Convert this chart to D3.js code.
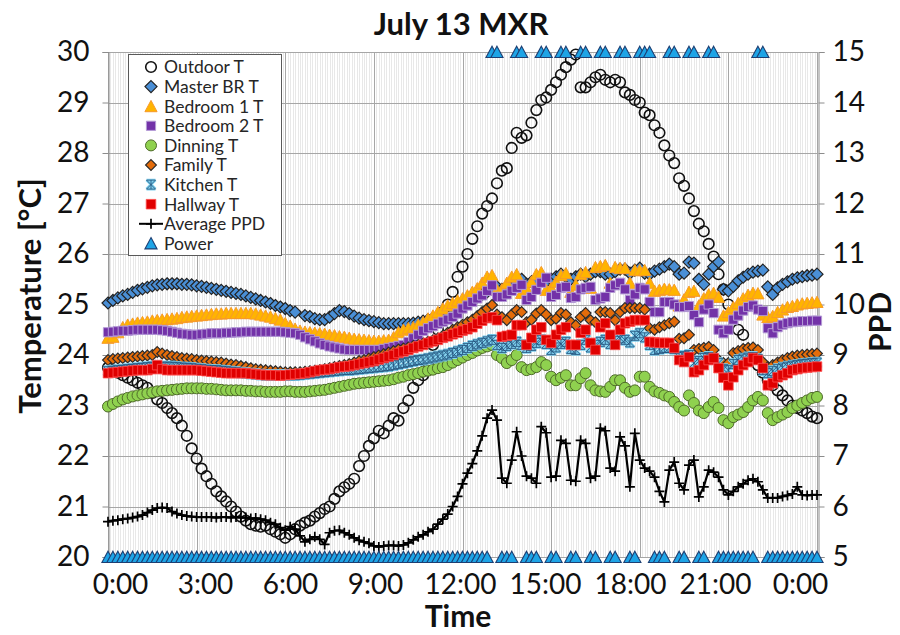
<!DOCTYPE html>
<html><head><meta charset="utf-8">
<script src="https://cdn.jsdelivr.net/npm/d3@7"></script>
<style>
body{margin:0;background:#fff;}
svg{display:block;font-family:Lato,"Open Sans",sans-serif;}
</style>
</head><body>
<svg id="chart" width="900" height="635"></svg>
<script>
// ---------- DATA ----------
const title = "July 13 MXR";
const xTickHours = [0,3,6,9,12,15,18,21,24];
const xTickLabels = ["0:00","3:00","6:00","9:00","12:00","15:00","18:00","21:00","0:00"];
const tempTicks = [20,21,22,23,24,25,26,27,28,29,30];
const ppdTicks = [5,6,7,8,9,10,11,12,13,14,15];
const stepMinutes = 10; // samples every 10 minutes, 0:00 .. 24:00

const outdoorT = [
23.75,23.7,23.65,23.6,23.55,23.5, 23.45,23.4,23.35,23.25,23.12,23.05,
22.95,22.85,22.75,22.6,22.4,22.15, 21.95,21.75,21.6,21.45,21.3,21.2,
21.1,21.0,20.9,20.8,20.72,20.65, 20.62,20.6,20.62,20.55,20.5,20.45,
20.38,20.45,20.55,20.62,20.68,20.72, 20.8,20.87,20.95,21.0,21.15,21.3,
21.38,21.45,21.55,21.8,22.0,22.2, 22.35,22.5,22.45,22.6,22.75,22.7,
22.95,23.1,23.35,23.5,23.6,23.85, 24.2,24.5,24.85,25.0,25.25,25.55,
25.75,26.0,26.3,26.55,26.8,26.95, 27.1,27.4,27.65,27.7,28.1,28.4,
28.3,28.35,28.6,28.85,29.05,29.1, 29.25,29.4,29.55,29.7,29.85,29.95,
29.3,29.3,29.4,29.5,29.55,29.45, 29.4,29.45,29.4,29.2,29.15,29.05,
29.0,28.8,28.75,28.55,28.4,28.15, 27.95,27.8,27.5,27.35,27.1,26.85,
26.6,26.45,26.2,25.95,25.6,25.3, 25.0,24.8,24.5,24.4,24.1,23.95,
23.8,23.65,23.5,23.4,23.3,23.2, 23.1,23.0,22.95,22.9,22.85,22.78,
22.75];

const masterBRT = [
25.03,25.08,25.13,25.17,25.2,25.24, 25.28,25.31,25.34,25.37,25.39,25.4,
25.41,25.41,25.41,25.4,25.4,25.39, 25.37,25.36,25.34,25.32,25.3,25.28,
25.26,25.24,25.22,25.2,25.17,25.14, 25.11,25.08,25.05,25.02,24.98,24.95,
24.92,24.88,24.85,null,24.78,24.76, 24.72,24.7,24.7,24.75,24.82,24.88,
24.86,24.82,24.77,24.73,24.7,24.68, 24.66,24.64,24.62,24.62,24.62,24.62,
24.62,24.62,24.63,24.65,24.67,24.7, 24.73,24.76,24.8,24.84,24.9,24.95,
25.0,25.05,25.1,25.15,25.2,25.25, 25.3,25.35,25.3,25.35,25.4,25.45,
25.5,25.4,25.45,25.5,25.55,25.45, 25.5,25.55,25.6,25.55,25.5,25.55,
25.6,25.55,25.6,25.65,25.65,25.6, 25.6,25.65,25.7,25.7,25.62,25.68,
25.72,25.62,25.6,25.66,25.7,25.75, 25.8,25.75,25.6,25.62,25.84,25.82,
25.5,25.4,25.6,25.75,25.84,25.3, 25.27,25.36,25.47,25.54,25.6,25.64,
25.66,25.68,25.35,25.2,25.33,25.4, 25.45,25.5,25.53,25.55,25.57,25.58,
25.6];

const bedroom1T = [
24.34,24.36,24.45,24.55,24.6,24.62, 24.64,24.65,24.66,24.68,24.69,24.7,
24.71,24.72,24.73,24.75,24.76,24.77, 24.78,24.79,24.8,24.81,24.82,24.82,
24.83,24.83,24.83,24.83,24.83,24.83, 24.82,24.8,24.78,24.76,24.73,24.7,
24.63,24.58,24.52,24.48,24.46,24.45, 24.44,24.43,24.42,24.4,24.39,24.37,
24.36,24.34,24.32,24.31,24.3,24.29, 24.28,24.28,24.29,24.3,24.35,24.45,
24.5,24.53,24.55,24.6,24.65,24.72, 24.78,24.85,24.92,24.98,25.03,25.08,
25.12,25.18,25.25,25.32,25.43,25.55, 25.58,25.29,25.3,25.43,25.55,25.6,
25.23,25.32,25.45,25.6,25.64,25.29, 25.33,25.45,25.58,25.62,25.25,25.39,
25.6,25.64,25.33,25.74,25.76,25.78, 25.43,25.74,25.72,25.72,25.43,25.68,
25.68,25.68,25.43,25.27,25.29,25.31, 25.3,25.29,24.98,25.1,25.25,25.27,
24.98,25.12,25.2,25.23,25.15,24.78, 24.85,24.95,25.03,25.12,25.19,25.23,
25.22,24.8,24.75,24.77,24.85,24.9, 24.95,24.97,25.0,25.02,25.03,25.04,
25.05];

const bedroom2T = [
24.45,24.46,24.47,24.48,24.48,24.49, 24.5,24.5,24.5,24.5,24.5,24.49,
24.48,24.46,24.44,24.42,24.41,24.4, 24.4,24.41,24.42,24.43,24.43,24.43,
24.44,24.44,24.45,24.45,24.46,24.46, 24.46,24.46,24.46,24.46,24.46,24.46,
24.45,24.44,24.43,24.4,24.35,24.31, 24.27,24.23,24.2,24.17,24.15,24.13,
24.11,24.1,24.1,24.1,24.1,24.1, 24.1,24.1,24.12,24.14,24.16,24.18,
24.2,24.26,24.33,24.4,24.48,24.53, 24.57,24.62,24.66,24.7,24.75,24.82,
24.92,24.98,25.05,25.12,25.18,25.27, 25.38,25.15,25.15,25.2,25.27,25.33,
25.39,25.09,25.15,25.29,25.43,25.53, 25.15,25.19,25.33,25.35,25.13,25.15,
25.3,25.33,25.35,25.09,25.12,25.15, 25.33,25.38,25.43,25.3,25.09,25.2,
25.33,25.3,25.05,24.85,24.85,25.05, 25.05,25.0,24.95,24.95,24.97,24.79,
24.65,24.9,25.0,24.83,24.5,24.43, 24.5,24.7,24.78,24.88,24.95,24.98,
24.9,24.87,24.53,24.43,24.55,24.6, 24.63,24.65,24.66,24.67,24.67,24.68,
24.68];

const dinningT = [
22.98,23.03,23.08,23.12,23.15,23.18, 23.2,23.22,23.24,23.26,23.28,23.29,
23.3,23.31,23.32,23.33,23.34,23.34, 23.34,23.34,23.33,23.33,23.32,23.31,
23.3,23.3,23.3,23.3,23.29,23.29, 23.28,23.28,23.27,23.27,23.27,23.27,
23.28,23.28,23.27,23.27,23.27,23.28, 23.29,23.3,23.31,23.33,23.35,23.37,
23.39,23.41,23.43,23.44,23.45,23.46, 23.47,23.48,23.49,23.5,23.52,23.55,
23.57,23.6,23.62,23.64,23.67,23.69, 23.71,23.74,23.76,23.8,23.85,23.9,
23.95,24.0,24.04,24.09,24.14,24.17, 24.2,24.0,23.94,23.84,23.9,24.0,
23.76,23.7,23.72,23.76,23.86,23.8, 23.57,23.5,23.55,23.6,23.4,23.4,
23.54,23.64,23.4,23.3,23.28,23.27, 23.37,23.5,23.5,23.35,23.27,23.3,
23.57,23.57,23.37,23.28,23.25,23.2, 23.17,23.07,22.97,22.9,23.2,23.05,
22.9,22.85,22.97,23.07,22.95,22.71, 22.65,22.77,22.82,22.87,22.97,23.1,
23.17,23.1,22.85,22.71,22.77,22.82, 22.87,22.95,23.0,23.05,23.1,23.15,
23.17];

const familyT = [
23.9,23.92,23.93,23.94,23.95,23.96, 23.97,23.98,23.99,24.0,24.06,24.03,
24.0,23.98,23.96,23.94,23.93,23.92, 23.9,23.89,23.88,23.87,23.86,23.85,
23.83,23.81,23.8,23.78,23.76,23.74, 23.72,23.71,23.7,23.69,23.68,23.67,
23.66,23.66,23.66,23.66,23.67,23.68, 23.69,23.7,23.72,23.74,23.76,23.78,
23.8,23.82,23.85,23.88,23.9,23.93, 23.96,23.99,24.02,24.05,24.08,24.11,
24.13,24.15,24.18,24.2,24.23,24.26, 24.29,24.33,24.38,24.44,24.5,24.55,
24.6,24.65,24.7,24.77,24.85,24.92, 24.99,24.8,24.75,24.69,24.8,24.89,
24.85,24.65,24.7,24.82,24.89,24.8, 24.69,24.72,24.83,24.8,24.65,24.59,
24.75,24.83,24.69,24.65,24.85,24.85, 24.83,24.69,24.85,24.93,24.93,24.93,
24.93,24.9,24.53,24.5,24.55,24.59, 24.63,24.66,24.32,24.33,24.4,24.1,
24.12,24.14,24.16,24.1,23.9,23.84, 23.84,24.04,24.08,24.12,24.14,24.15,
24.1,23.86,23.76,23.8,23.85,23.9, 23.94,23.97,23.99,24.0,24.01,24.02,
24.03];

const kitchenT = [
23.68,23.69,23.7,23.71,23.72,23.73, 23.74,23.75,23.76,23.77,23.77,23.77,
23.77,23.77,23.76,23.75,23.75,23.74, 23.73,23.72,23.71,23.7,23.7,23.69,
23.68,23.67,23.66,23.65,23.64,23.63, 23.62,23.61,23.6,23.6,23.6,23.6,
23.6,23.6,23.6,23.61,23.62,23.63, 23.64,23.65,23.66,23.67,23.68,23.69,
23.7,23.7,23.71,23.72,23.73,23.74, 23.75,23.76,23.77,23.78,23.8,23.82,
23.84,23.86,23.88,23.9,23.91,23.93, 23.95,23.97,23.99,24.01,24.04,24.07,
24.1,24.14,24.18,24.21,24.24,24.27, 24.3,24.2,24.14,24.18,24.22,24.26,
24.2,24.14,24.18,24.24,24.3,24.22, 24.1,24.15,24.22,24.26,24.12,24.1,
24.2,24.3,24.15,24.2,24.26,24.3, 24.22,24.28,24.33,24.3,24.25,24.38,
24.43,24.35,24.2,24.1,24.12,24.14, 24.14,24.12,23.96,23.98,24.0,23.84,
23.88,23.94,23.96,23.92,23.84,23.72, 23.7,23.82,23.9,23.93,23.95,23.96,
23.92,23.7,23.64,23.68,23.72,23.75, 23.77,23.79,23.8,23.82,23.83,23.84,
23.85];

const hallwayT = [
23.64,23.65,23.66,23.67,23.68,23.69, 23.7,23.7,23.7,23.72,23.8,23.72,
23.7,23.7,23.7,23.7,23.7,23.7, 23.7,23.69,23.68,23.67,23.66,23.65,
23.64,23.64,23.64,23.64,23.64,23.63, 23.62,23.61,23.6,23.6,23.6,23.59,
23.6,23.61,23.62,23.63,23.64,23.66, 23.68,23.7,23.71,23.72,23.74,23.76,
23.77,23.78,23.8,23.82,23.84,23.86, 23.88,23.91,23.94,23.97,24.0,24.04,
24.07,24.1,24.14,24.17,24.2,24.24, 24.27,24.3,24.34,24.37,24.41,24.44,
24.48,24.51,24.55,24.62,24.68,24.73, 24.75,24.69,24.36,24.38,24.4,24.59,
24.59,24.2,24.34,24.5,24.55,24.3, 24.24,24.4,24.5,24.55,24.2,24.2,
24.44,24.5,24.24,24.1,24.55,24.63, 24.4,24.2,24.5,24.63,24.66,24.69,
24.69,24.69,24.26,24.25,24.24,24.24, 24.24,24.14,23.9,23.86,23.96,23.66,
23.7,23.8,23.9,23.94,23.74,23.55, 23.4,23.56,23.7,23.8,23.86,23.94,
23.9,23.74,23.4,23.44,23.56,23.6, 23.64,23.7,23.72,23.74,23.75,23.76,
23.77];

const averagePPD = [
5.7,5.72,5.73,5.75,5.76,5.78, 5.8,5.83,5.88,5.93,5.97,5.98,
5.97,5.9,5.86,5.83,5.81,5.8, 5.79,5.79,5.79,5.79,5.78,5.79,
5.79,5.78,5.79,5.78,5.78,5.76, 5.77,5.75,5.73,5.68,5.65,5.58,
5.53,5.6,5.55,5.42,5.3,5.35, 5.4,5.35,5.25,5.48,5.52,5.53,
5.48,5.44,5.38,5.33,5.3,5.27, 5.22,5.2,5.22,5.23,5.23,5.22,
5.24,5.28,5.34,5.4,5.44,5.5, 5.55,5.65,5.75,5.85,6.0,6.2,
6.45,6.66,6.85,7.1,7.4,7.75, 7.91,7.71,6.56,6.46,6.92,7.48,
7.0,6.6,6.56,6.46,7.58,7.46, 6.58,6.6,7.31,7.25,6.52,6.5,
7.31,7.25,6.56,6.6,7.55,7.5, 6.76,6.7,7.38,7.2,6.39,7.45,
6.92,6.76,6.7,6.58,6.3,6.09, 6.72,6.88,6.46,6.33,6.82,6.92,
6.19,6.39,6.72,6.68,6.58,6.33, 6.23,6.3,6.39,6.45,6.52,6.55,
6.49,6.33,6.17,6.17,6.17,6.2, 6.22,6.25,6.39,6.23,6.22,6.23,
6.23];

// times (h:mm) at which the power marker sits at the top (ON); all other samples are OFF
const powerOnTimes = ["13:00","13:10","13:50","14:00","14:40","14:50","15:20","15:30",
"16:00","16:10","16:40","16:50","17:20","17:30","18:00","18:10","18:20",
"19:00","19:10","19:40","19:50","20:20","20:30","22:00","22:10"];

// ---------- CHART ----------
const svg = d3.select("#chart");
const L = 108, R = 818, T = 52, B = 557;
const times = d3.range(0, 24*60 + 1, stepMinutes).map(m => m/60);
const fmt = h => { const m = Math.round(h*60); return Math.floor(m/60) + ":" + String(m%60).padStart(2,"0"); };
const onSet = new Set(powerOnTimes);
const power = times.map(h => onSet.has(fmt(h)) ? 1 : 0);

const x = d3.scaleLinear([0,24],[L,R-1]);
const xLab = d3.scaleLinear([0,24],[120,800]);
const yT = d3.scaleLinear([20,30],[B,T]);
const yP = d3.scaleLinear([5,15],[B,T]);
const yPow = d3.scaleLinear([0,1],[B,T]);

// minor vertical grid (5 min)
const g = svg.append("g");
g.selectAll(".minor").data(d3.range(0, 24*60+1, 5).map(m=>m/60)).join("line")
  .attr("x1", d=>Math.round(x(d))+0.5).attr("x2", d=>Math.round(x(d))+0.5)
  .attr("y1", T).attr("y2", B).attr("stroke", "#e8e8e8").attr("stroke-width", 1);
// major grid
g.selectAll(".hg").data(tempTicks).join("line")
  .attr("x1", L).attr("x2", R).attr("y1", d=>Math.round(yT(d))+0.5).attr("y2", d=>Math.round(yT(d))+0.5)
  .attr("stroke", "#a6a6a6").attr("stroke-width", 1);
g.selectAll(".vg").data(xTickHours).join("line")
  .attr("x1", d=>Math.round(x(d))+0.5).attr("x2", d=>Math.round(x(d))+0.5)
  .attr("y1", T).attr("y2", B).attr("stroke", "#a6a6a6").attr("stroke-width", 1);

// axes
const axL = svg.append("g").attr("transform", `translate(${L+0.5},0)`)
  .call(d3.axisLeft(yT).tickValues(tempTicks).tickSize(6).tickPadding(13).tickFormat(d3.format("d")));
const axR = svg.append("g").attr("transform", `translate(${R+0.5},0)`)
  .call(d3.axisRight(yP).tickValues(ppdTicks).tickSize(6).tickPadding(8).tickFormat(d3.format("d")));
const axB = svg.append("g").attr("transform", `translate(0,${B})`)
  .call(d3.axisBottom(xLab).tickValues(xTickHours).tickSize(0).tickPadding(17)
    .tickFormat((d,i)=>xTickLabels[i]));
[axL, axR, axB].forEach(a => {
  a.selectAll("path.domain").attr("stroke", "#8c8c8c");
  a.selectAll(".tick line").attr("stroke", "#8c8c8c");
  a.selectAll("text").attr("font-size", 28).attr("fill", "#111").attr("font-family", "Lato");
});
axB.select("path.domain").remove();

// marker shapes
function mk(type, s) {
  switch (type) {
    case "circle": return d3.symbol(d3.symbolCircle, Math.PI*s*s)();
    case "diamond": return `M0,${-s}L${s},0L0,${s}L${-s},0Z`;
    case "triangle": return `M0,${-s}L${s*1.05},${s*0.95}L${-s*1.05},${s*0.95}Z`;
    case "square": return `M${-s},${-s}H${s}V${s}H${-s}Z`;
    case "star": return `M${-s},${-s}L${s},${s}M${s},${-s}L${-s},${s}M0,${-s}V${s}M${-s},${-s}H${s}M${-s},${s}H${s}`;
    case "plus": return `M${-s},0H${s}M0,${-s}V${s}`;
  }
}

const series = [
  {name:"Outdoor T",  vals:outdoorT,  y:yT, type:"circle",  s:5.3, fill:"none",    stroke:"#111",    sw:1.6},
  {name:"Master BR T",vals:masterBRT, y:yT, type:"diamond", s:6,   fill:"#4a8fd6", stroke:"#222",    sw:1.2},
  {name:"Bedroom 1 T",vals:bedroom1T, y:yT, type:"triangle",s:5.8, fill:"#ffb400", stroke:"#f79a2a", sw:1},
  {name:"Bedroom 2 T",vals:bedroom2T, y:yT, type:"square",  s:4.6, fill:"#7332a8", stroke:"#b49bd6", sw:1},
  {name:"Dinning T",  vals:dinningT,  y:yT, type:"circle",  s:5.5, fill:"#8fd14f", stroke:"#4f6b2a", sw:1},
  {name:"Family T",   vals:familyT,   y:yT, type:"diamond", s:5.4, fill:"#e46c0a", stroke:"#2b2b2b", sw:1.2},
  {name:"Kitchen T",  vals:kitchenT,  y:yT, type:"star",    s:4.5, fill:"none",    stroke:"#7fd0ee", sw:2.8, inner:"#1f4e79"},
  {name:"Hallway T",  vals:hallwayT,  y:yT, type:"square",  s:4.8, fill:"#e00000", stroke:"#ff5050", sw:0.8},
];

function drawMarkers(sel, d, type, s, fill, stroke, sw) {
  sel.selectAll(null).data(d).join("path")
    .attr("d", mk(type, s))
    .attr("transform", p => `translate(${p[0]},${p[1]})`)
    .attr("fill", fill).attr("stroke", stroke).attr("stroke-width", sw);
}

const plot = svg.append("g");
series.forEach(sr => {
  const pts = times.map((t,i)=>[t, sr.vals[i]]).filter(p=>p[1]!=null).map(p=>[x(p[0]), sr.y(p[1])]);
  const gg = plot.append("g");
  drawMarkers(gg, pts, sr.type, sr.s, sr.fill, sr.stroke, sr.sw);
  if (sr.inner) drawMarkers(gg, pts, sr.type, sr.s, "none", sr.inner, 0.8);
});

// Average PPD line with + markers
const ppdPts = times.map((t,i)=>[x(t), yP(averagePPD[i])]);
plot.append("path").datum(ppdPts).attr("d", d3.line()).attr("fill","none")
  .attr("stroke","#000").attr("stroke-width",2.2).attr("stroke-linejoin","round");
drawMarkers(plot.append("g"), ppdPts, "plus", 5, "none", "#000", 1.7);

// Power
const powPts = times.map((t,i)=>[x(t), yPow(power[i])]);
drawMarkers(plot.append("g"), powPts, "triangle", 5.8, "#1ea4e6", "#1d3f73", 1.1);

// titles
svg.append("text").attr("x", 461).attr("y", 35).attr("text-anchor","middle")
  .attr("font-size", 31).attr("font-weight", 700).attr("fill","#111").text(title);
svg.append("text").attr("transform","translate(41,296) rotate(-90)").attr("text-anchor","middle")
  .attr("font-size", 31).attr("font-weight", 700).attr("fill","#111").text("Temperature [°C]");
svg.append("text").attr("transform","translate(891,322) rotate(-90)").attr("text-anchor","middle")
  .attr("font-size", 30).attr("font-weight", 700).attr("fill","#111").text("PPD");
svg.append("text").attr("x", 458).attr("y", 627).attr("text-anchor","middle")
  .attr("font-size", 30).attr("font-weight", 700).attr("fill","#111").text("Time");

// legend
const lg = svg.append("g");
lg.append("rect").attr("x",128.5).attr("y",54.5).attr("width",153).attr("height",201)
  .attr("fill","#fff").attr("stroke","#595959").attr("stroke-width",1);
const legendItems = series.concat([
  {name:"Average PPD", type:"plus", s:5, fill:"none", stroke:"#000", sw:1.7, line:true},
  {name:"Power", type:"triangle", s:5.8, fill:"#1ea4e6", stroke:"#1d3f73", sw:1.1}
]);
legendItems.forEach((it,i) => {
  const cy = 67 + i*19.6, cx = 151;
  const gi = lg.append("g");
  if (it.line) gi.append("line").attr("x1",139).attr("x2",163).attr("y1",cy).attr("y2",cy).attr("stroke","#000").attr("stroke-width",2);
  drawMarkers(gi, [[cx,cy]], it.type, it.s, it.fill, it.stroke, it.sw);
  if (it.inner) drawMarkers(gi, [[cx,cy]], it.type, it.s, "none", it.inner, 0.8);
  gi.append("text").attr("x",164).attr("y",cy).attr("dy","0.36em")
    .attr("font-size",17.5).attr("fill","#262626").text(it.name);
});
</script>
</body></html>
